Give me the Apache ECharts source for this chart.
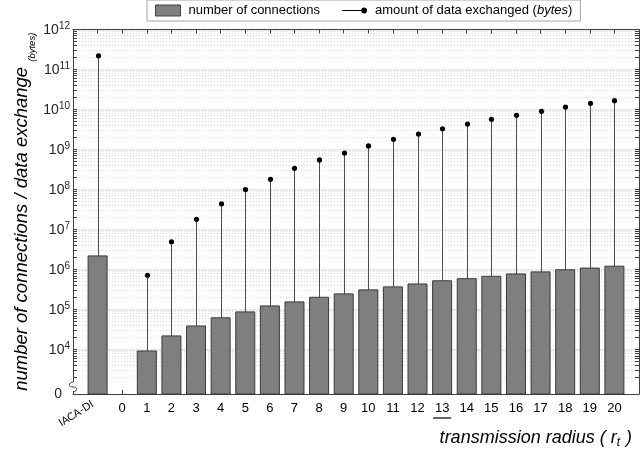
<!DOCTYPE html>
<html><head><meta charset="utf-8">
<script src="https://cdn.jsdelivr.net/npm/echarts@6/dist/echarts.min.js"></script>
<style>html,body{margin:0;padding:0;background:#fff}#c{width:642px;height:454px}</style>
</head><body><div id="c"></div>
<script>
// ---------- data ----------
const categories = ['IACA-DI','0','1','2','3','4','5','6','7','8','9','10','11','12','13','14','15','16','17','18','19','20'];
const connections = [2.26e6, null, 9.5e3, 2.26e4, 4.0e4, 6.4e4, 9.0e4, 1.27e5, 1.6e5, 2.09e5, 2.54e5, 3.2e5, 3.8e5, 4.5e5, 5.4e5, 6.1e5, 7.0e5, 8.0e5, 9.0e5, 1.02e6, 1.12e6, 1.25e6];
const dataExchanged = [2.2e11, null, 7.2e5, 4.95e6, 1.8e7, 4.4e7, 1.0e8, 1.8e8, 3.4e8, 5.5e8, 8.2e8, 1.23e9, 1.8e9, 2.44e9, 3.3e9, 4.34e9, 5.7e9, 7.2e9, 9.0e9, 1.15e10, 1.43e10, 1.66e10];
const yTickPowers = [4,5,6,7,8,9,10,11,12];
const yZeroLabel = '0';
const underlinedCategory = '13';
const rotatedCategory = 'IACA-DI';
const seriesNames = ['number of connections', 'amount of data exchanged (bytes)'];

// ---------- axis helpers ----------
const Y_MIN = 2.89, Y_MAX = 12;          // log10 space; Y_MIN stands for the broken "0"
const X_MIN = -2, X_MAX = 21;
const xPos = i => i - 1;
const xIndex = v => Math.round(v) + 1;

const minorTicks = [];
for (let n = 3; n < 12; n++) for (let k = 2; k <= 9; k++) {
  const v = n + Math.log10(k);
  if (v > Y_MIN + 0.3) minorTicks.push(v);
}
const majorTicks = yTickPowers.slice();
const allTicks = majorTicks.concat(minorTicks).sort((a,b)=>a-b);

const barData = [], stemData = [];
categories.forEach((c, i) => {
  if (connections[i] != null) barData.push([xPos(i), Math.log10(connections[i])]);
  if (dataExchanged[i] != null) stemData.push([xPos(i), Math.log10(dataExchanged[i])]);
});

const FONT = '"Liberation Sans", Arial, sans-serif';
const AX = '#404040';

const chart = echarts.init(document.getElementById('c'), null, {renderer:'canvas'});
const option = {
  animation: false,
  backgroundColor: '#fff',
  textStyle: {fontFamily: FONT},
  grid: {left: 73, right: 1, top: 29.5, bottom: 60, containLabel: false},
  legend: {
    left: 147, top: 0,
    padding: [4, 8, 4, 8],
    itemGap: 22, itemWidth: 25, itemHeight: 11,
    borderColor: '#a6a6a6', borderWidth: 1,
    textStyle: {fontFamily: FONT, fontSize: 13, color: '#000', padding: [0,0,0,3],
      rich: {i: {fontFamily: FONT, fontSize: 13, fontStyle: 'italic', color: '#000'}}},
    formatter: name => name === seriesNames[1] ? 'amount of data exchanged ({i|bytes})' : name,
    data: [
      {name: seriesNames[0], icon: 'rect', itemStyle: {color: '#7f7f7f', borderColor: '#404040', borderWidth: 1}},
      {name: seriesNames[1], icon: 'path://M0,0L0,0ZM0,11L0,11ZM0,5L20,5L20,6L0,6ZM26,5.5A3,3 0 1 1 20,5.5A3,3 0 1 1 26,5.5Z',
       itemStyle: {color: '#000', borderWidth: 0}}
    ]
  },
  xAxis: [
    { type: 'value', position: 'bottom', min: X_MIN, max: X_MAX, interval: 1,
      axisLine: {show: true, onZero: false, lineStyle: {color: AX, width: 1}},
      axisTick: {show: true, inside: true, length: 4, lineStyle: {color: AX}},
      splitLine: {show: false},
      axisLabel: {
        margin: 8, fontSize: 13, color: '#000', fontFamily: FONT,
        formatter: v => {
          const c = categories[xIndex(v)];
          if (v < X_MIN + 0.5 || v > X_MAX - 0.5 || c === undefined || c === rotatedCategory) return '';
          if (c === underlinedCategory) return c + '\n{u| }';
          return c;
        },
        rich: {u: {width: 18, height: 1.5, lineHeight: 6, backgroundColor: '#333', fontSize: 1}}
      },
      name: '{a|transmission radius ( }{r|r}{t|t}{a| )}',
      nameLocation: 'end', nameGap: -7,
      nameTextStyle: {align: 'right', verticalAlign: 'top', padding: [33, 0, 0, 0],
        rich: {
          a: {fontFamily: FONT, fontSize: 18, fontStyle: 'italic', color: '#000', lineHeight: 22},
          r: {fontFamily: FONT, fontSize: 18, fontStyle: 'italic', color: '#000', lineHeight: 22},
          t: {fontFamily: FONT, fontSize: 12, fontStyle: 'italic', color: '#000', lineHeight: 12, verticalAlign: 'bottom', padding: [0,1,0,0]}
        }}
    },
    { type: 'value', position: 'top', min: X_MIN, max: X_MAX, interval: 1,
      axisLine: {show: true, onZero: false, lineStyle: {color: AX, width: 1}},
      axisTick: {show: true, inside: true, length: 4, lineStyle: {color: AX}},
      axisLabel: {show: false}, splitLine: {show: false} },
    { type: 'value', position: 'bottom', min: X_MIN, max: X_MAX, interval: 1,
      axisLine: {show: false}, axisTick: {show: false}, splitLine: {show: false},
      axisLabel: {
        rotate: 32, margin: 6, fontSize: 10.5, fontFamily: 'Lato, "Open Sans", sans-serif', color: '#000',
        formatter: v => categories[xIndex(v)] === rotatedCategory ? '{p|' + rotatedCategory + '}' : '',
        rich: {p: {fontSize: 10.5, fontFamily: 'Lato, "Open Sans", sans-serif', color: '#000', padding: [0, 6, 0, 0]}}
      } }
  ],
  yAxis: [
    { type: 'value', position: 'left', min: Y_MIN, max: Y_MAX,
      axisLine: {show: true, onZero: false, lineStyle: {color: AX, width: 1}},
      axisTick: {show: true, inside: true, length: 4, lineStyle: {color: AX}, customValues: allTicks},
      splitLine: {show: true, lineStyle: {color: '#dadada', type: [1, 2], width: 1}},
      axisLabel: {
        customValues: [Y_MIN].concat(majorTicks), margin: 3, color: '#262626',
        formatter: v => Math.abs(v - Y_MIN) < 1e-6 ? '{z|' + yZeroLabel + '}' : '{b|10}{s|' + Math.round(v) + '}',
        rich: {
          z: {fontFamily: FONT, fontSize: 14, color: '#262626', padding: [0, 8, 0, 0]},
          b: {fontFamily: FONT, fontSize: 14, color: '#262626', lineHeight: 16, padding: [5, 0, 0, 0], verticalAlign: 'bottom'},
          s: {fontFamily: FONT, fontSize: 10, color: '#262626', lineHeight: 10, verticalAlign: 'top'}
        }
      },
      name: '{a|number of connections / data exchange }{b|(bytes)}',
      nameLocation: 'middle', nameRotate: 90, nameGap: 36, nameMoveOverlap: false,
      nameTextStyle: {
        padding: [0, 0, 0, 0],
        rich: {
          a: {fontFamily: FONT, fontSize: 18.5, fontStyle: 'italic', color: '#000', lineHeight: 22, padding: [0, 0, 8, 0]},
          b: {fontFamily: FONT, fontSize: 9.5, fontStyle: 'italic', color: '#000', lineHeight: 12, verticalAlign: 'bottom'}
        }
      }
    },
    { type: 'value', position: 'right', min: Y_MIN, max: Y_MAX,
      axisLine: {show: true, onZero: false, lineStyle: {color: AX, width: 1}},
      axisTick: {show: true, inside: true, length: 4, lineStyle: {color: AX}, customValues: allTicks},
      axisLabel: {show: false}, splitLine: {show: false} },
    { type: 'value', position: 'left', min: Y_MIN, max: Y_MAX,
      axisLine: {show: false}, axisLabel: {show: false},
      axisTick: {show: false, customValues: majorTicks},
      splitLine: {show: true, lineStyle: {color: '#e6e6e6', width: 1.5, type: 'solid'}} }
  ],
  series: [
    { name: seriesNames[1], type: 'custom', xAxisIndex: 0, yAxisIndex: 0, z: 2,
      data: stemData,
      renderItem: (params, api) => {
        const top = api.coord([api.value(0), api.value(1)]);
        const bot = api.coord([api.value(0), Y_MIN]);
        const x = Math.round(top[0]) + 0.5;
        return {type: 'group', children: [
          {type: 'line', shape: {x1: x, y1: top[1], x2: x, y2: bot[1]}, style: {stroke: '#4d4d4d', lineWidth: 1}},
          {type: 'circle', shape: {cx: x, cy: top[1], r: 2.6}, style: {fill: '#000'}}
        ]};
      },
      itemStyle: {color: '#000'}
    },
    { name: seriesNames[0], type: 'bar', xAxisIndex: 0, yAxisIndex: 0, z: 3,
      data: barData, barWidth: 20, clip: true,
      itemStyle: {color: '#7f7f7f', borderColor: '#3a3a3a', borderWidth: 1} }
  ]
};
chart.setOption(option);

// small axis-break squiggle on the y axis (decoration)
const p0 = chart.convertToPixel({xAxisIndex: 0, yAxisIndex: 0}, [X_MIN, Y_MIN]);
const bx = p0[0], by = p0[1];
chart.setOption({graphic: [
  {type: 'rect', shape: {x: bx - 4, y: by - 12, width: 8, height: 9}, style: {fill: '#fff'}, z: 100},
  {type: 'bezierCurve', shape: {x1: bx, y1: by - 2, cpx1: bx + 5, cpy1: by - 3, cpx2: bx + 5, cpy2: by - 7, x2: bx, y2: by - 7},
   style: {stroke: AX, fill: null, lineWidth: 1}, z: 101},
  {type: 'bezierCurve', shape: {x1: bx, y1: by - 7, cpx1: bx - 5, cpy1: by - 7, cpx2: bx - 5, cpy2: by - 11, x2: bx, y2: by - 12},
   style: {stroke: AX, fill: null, lineWidth: 1}, z: 101}
]});
</script></body></html>
